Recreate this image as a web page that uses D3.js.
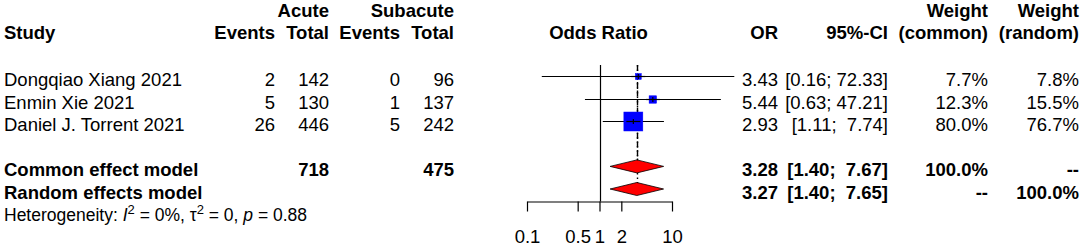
<!DOCTYPE html>
<html>
<head>
<meta charset="utf-8">
<script src="https://cdn.jsdelivr.net/npm/d3@7"></script>
<style>
  body { margin: 0; background: #fff; }
  svg text { font-family: "Liberation Sans", Arial, sans-serif; white-space: pre; fill: #000; }
</style>
</head>
<body>
<div id="chart"></div>
<script>
// study rows
var studies = ["Dongqiao Xiang 2021", "Enmin Xie 2021", "Daniel J. Torrent 2021"];
var acuteEvents = [2, 5, 26];
var acuteTotal = [142, 130, 446];
var subEvents = [0, 1, 5];
var subTotal = [96, 137, 242];
var orEst = [3.43, 5.44, 2.93];
var orLower = [0.16, 0.63, 1.11];
var orUpper = [72.33, 47.21, 7.74];
var ciText = ["[0.16; 72.33]", "[0.63; 47.21]", "[1.11;  7.74]"];
var weightCommon = [7.7, 12.3, 80.0];
var weightRandom = [7.8, 15.5, 76.7];

// pooled models
var models = ["Common effect model", "Random effects model"];
var modelEst = [3.28, 3.27];
var modelLower = [1.40, 1.40];
var modelUpper = [7.67, 7.65];
var modelCiText = ["[1.40;  7.67]", "[1.40;  7.65]"];
var modelWCommon = ["100.0%", "--"];
var modelWRandom = ["--", "100.0%"];
var totalAcute = 718, totalSub = 475;

var tickValues = [0.1, 0.5, 1, 2, 10];
var tickLabels = ["0.1", "0.5", "1", "2", "10"];

var width = 1084, height = 246;
var fs = 18.5;
var lw = 1.2;

var svg = d3.select("#chart").append("svg")
  .attr("width", width)
  .attr("height", height);

// scales
var x = d3.scaleLog().domain([0.1, 10]).range([527, 672]);
var y = d3.scaleLinear().domain([0, 1]).range([76, 98.6]); // row index -> mark centre
var axisY = 201.5;
var plotTop = 65;
var snap = v => Math.round(v) + 0.5;

// column anchors (right aligned)
var col = {acuteEv: 275, acuteTot: 329, subEv: 400, subTot: 454, or: 778, ci: 888, wc: 988, wr: 1079};

function txt(xp, yp, s, anchor, bold, size) {
  return svg.append("text")
    .attr("x", xp).attr("y", yp)
    .attr("text-anchor", anchor || "end")
    .attr("font-weight", bold ? "bold" : "normal")
    .attr("font-size", (size || fs) + "px")
    .text(s);
}

// headers
txt(col.acuteTot, 17, "Acute", "end", true);
txt(col.subTot, 17, "Subacute", "end", true);
txt(col.wc, 17, "Weight", "end", true);
txt(col.wr, 17, "Weight", "end", true);
txt(4, 38.5, "Study", "start", true);
txt(col.acuteEv, 38.5, "Events", "end", true);
txt(col.acuteTot, 38.5, "Total", "end", true);
txt(col.subEv, 38.5, "Events", "end", true);
txt(col.subTot, 38.5, "Total", "end", true);
txt(x(1) - 1, 38.5, "Odds Ratio", "middle", true);
txt(col.or, 38.5, "OR", "end", true);
txt(col.ci, 38.5, "95%-CI", "end", true);
txt(col.wc, 38.5, "(common)", "end", true);
txt(col.wr, 38.5, "(random)", "end", true);

// study text
studies.forEach(function(s, i) {
  var b = y(i) + 10;
  txt(4, b, s, "start");
  txt(col.acuteEv, b, acuteEvents[i]);
  txt(col.acuteTot, b, acuteTotal[i]);
  txt(col.subEv, b, subEvents[i]);
  txt(col.subTot, b, subTotal[i]);
  txt(col.or, b, orEst[i].toFixed(2));
  txt(col.ci, b, ciText[i]);
  txt(col.wc, b, weightCommon[i].toFixed(1) + "%");
  txt(col.wr, b, weightRandom[i].toFixed(1) + "%");
});

// model text
models.forEach(function(m, j) {
  var b = y(j + 4) + 9.5;
  txt(4, b, m, "start", true);
  if (j === 0) {
    txt(col.acuteTot, b, totalAcute, "end", true);
    txt(col.subTot, b, totalSub, "end", true);
  }
  txt(col.or, b, modelEst[j].toFixed(2), "end", true);
  txt(col.ci, b, modelCiText[j], "end", true);
  txt(col.wc, b, modelWCommon[j], "end", true);
  txt(col.wr, b, modelWRandom[j], "end", true);
});

// heterogeneity
var het = svg.append("text")
  .attr("x", 4).attr("y", y(6) + 9.5)
  .attr("font-size", "17.5px");
het.append("tspan").text("Heterogeneity: ");
het.append("tspan").attr("font-style", "italic").text("I");
het.append("tspan").attr("font-size", "13px").attr("dy", -7).text("2");
het.append("tspan").attr("dy", 7).text(" = 0%, \u03C4");
het.append("tspan").attr("font-size", "13px").attr("dy", -7).text("2");
het.append("tspan").attr("dy", 7).text(" = 0, ");
het.append("tspan").attr("font-style", "italic").text("p");
het.append("tspan").text(" = 0.88");

// reference lines
svg.append("line")
  .attr("x1", snap(x(1))).attr("x2", snap(x(1)))
  .attr("y1", plotTop).attr("y2", axisY)
  .attr("stroke", "#000").attr("stroke-width", lw);

svg.append("line")
  .attr("x1", snap(x(modelEst[1]))).attr("x2", snap(x(modelEst[1])))
  .attr("y1", plotTop).attr("y2", y(5) - 6)
  .attr("stroke", "#000").attr("stroke-width", 1.4)
  .attr("stroke-dasharray", "1.5,3");

svg.append("line")
  .attr("x1", snap(x(modelEst[0]))).attr("x2", snap(x(modelEst[0])))
  .attr("y1", plotTop).attr("y2", y(4) - 6)
  .attr("stroke", "#000").attr("stroke-width", 1.4)
  .attr("stroke-dasharray", "6,2.5");

// study CIs and squares
var rows = svg.selectAll(".study")
  .data(studies)
  .enter().append("g")
  .attr("class", "study");

var side = i => 2.12 * Math.sqrt(weightCommon[i]);

rows.append("line")
  .attr("x1", (d, i) => x(orLower[i]))
  .attr("x2", (d, i) => x(orUpper[i]))
  .attr("y1", (d, i) => snap(y(i)))
  .attr("y2", (d, i) => snap(y(i)))
  .attr("stroke", "#000").attr("stroke-width", lw);

rows.append("rect")
  .attr("x", (d, i) => x(orEst[i]) - side(i) / 2)
  .attr("y", (d, i) => snap(y(i)) - side(i) / 2)
  .attr("width", (d, i) => side(i))
  .attr("height", (d, i) => side(i))
  .attr("fill", "#0000ff")
  .attr("stroke", "#0000ff").attr("stroke-width", 0.5);

rows.append("line")
  .attr("x1", (d, i) => x(Math.max(orLower[i], orEst[i] / 1.25)))
  .attr("x2", (d, i) => x(Math.min(orUpper[i], orEst[i] * 1.25)))
  .attr("y1", (d, i) => snap(y(i)))
  .attr("y2", (d, i) => snap(y(i)))
  .attr("stroke", "#000").attr("stroke-width", lw);

rows.append("line")
  .attr("x1", (d, i) => x(orEst[i]))
  .attr("x2", (d, i) => x(orEst[i]))
  .attr("y1", (d, i) => snap(y(i)) - 2.5)
  .attr("y2", (d, i) => snap(y(i)) + 2.5)
  .attr("stroke", "#000").attr("stroke-width", lw);

// diamonds
svg.selectAll(".diamond")
  .data(models)
  .enter().append("path")
  .attr("class", "diamond")
  .attr("d", function(d, j) {
    var cy = y(j + 4);
    return "M" + x(modelLower[j]) + "," + cy +
      "L" + x(modelEst[j]) + "," + (cy - 6.5) +
      "L" + x(modelUpper[j]) + "," + cy +
      "L" + x(modelEst[j]) + "," + (cy + 6.5) + "Z";
  })
  .attr("fill", "#ff0000")
  .attr("stroke", "#000").attr("stroke-width", 0.8);

// x axis
var axis = svg.append("g")
  .attr("transform", "translate(0," + axisY + ")")
  .call(d3.axisBottom(x)
    .tickValues(tickValues)
    .tickFormat((d, i) => tickLabels[i])
    .tickSize(10)
    .tickSizeOuter(0)
    .tickPadding(18));

axis.select(".domain").attr("stroke", "#000").attr("stroke-width", lw);
axis.selectAll(".tick line").attr("stroke", "#000").attr("stroke-width", lw);
axis.selectAll(".tick text")
  .attr("font-family", "Liberation Sans, Arial, sans-serif")
  .attr("font-size", fs + "px")
  .attr("fill", "#000");
</script>
</body>
</html>
